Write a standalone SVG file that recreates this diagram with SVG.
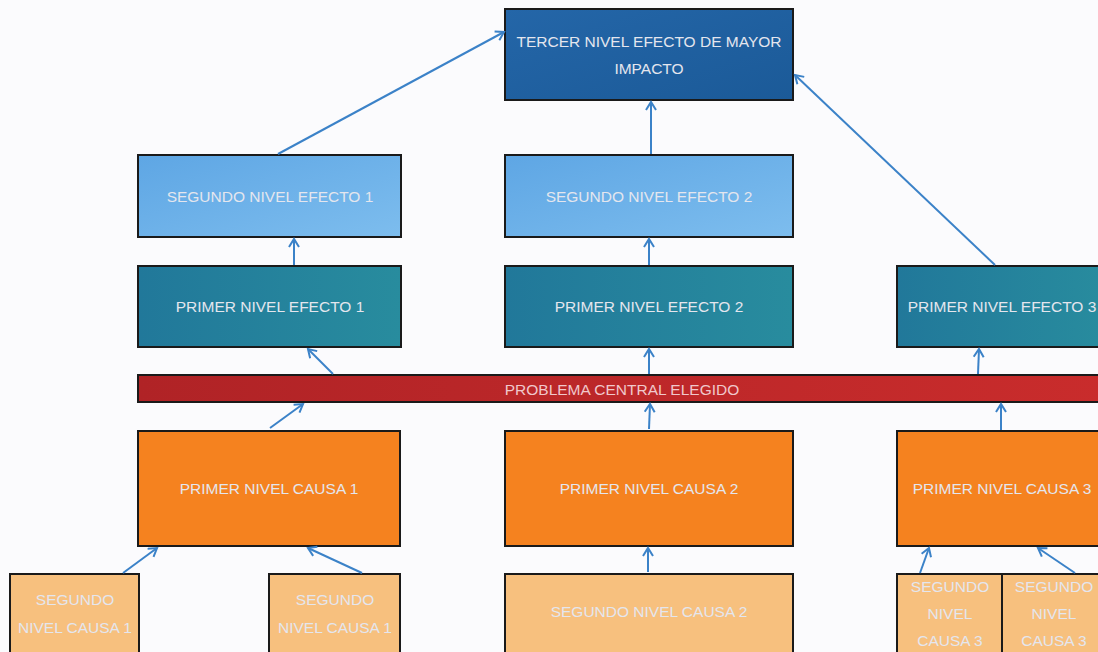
<svg xmlns="http://www.w3.org/2000/svg" width="1098" height="652" viewBox="0 0 1098 652">
<style>
.box{stroke:#1a1a1a;stroke-width:2}
.t{font-family:"Liberation Sans",Arial,sans-serif;font-size:15.5px;fill:#e4e6ee;text-anchor:middle}
.c{stroke:#3b82c8;stroke-width:2;fill:none;marker-end:url(#ah)}
</style>
<defs>
<marker id="ah" markerUnits="userSpaceOnUse" markerWidth="14" markerHeight="14" refX="9" refY="6" orient="auto">
<path d="M1,1 L9,6 L1,11" fill="none" stroke="#3b82c8" stroke-width="2"/>
</marker>
<linearGradient id="gTop" x1="0" y1="0" x2="1" y2="1"><stop offset="0" stop-color="#2466a8"/><stop offset="1" stop-color="#1b5a98"/></linearGradient>
<linearGradient id="gSeg" x1="0" y1="0" x2="1" y2="1"><stop offset="0" stop-color="#5ea6e4"/><stop offset="1" stop-color="#7dbdee"/></linearGradient>
<linearGradient id="gPri" x1="0" y1="0" x2="1" y2="0"><stop offset="0" stop-color="#21789a"/><stop offset="1" stop-color="#288c9e"/></linearGradient>
<linearGradient id="gRed" x1="0" y1="0" x2="1" y2="0"><stop offset="0" stop-color="#b02326"/><stop offset="1" stop-color="#c92c2c"/></linearGradient>
</defs>
<rect width="1098" height="652" fill="#fbfbfd"/>

<g id="tercer-nivel">
<rect class="box" x="505" y="9" width="288" height="91" fill="url(#gTop)"/>
<text class="t" x="649" y="47">TERCER NIVEL EFECTO DE MAYOR</text>
<text class="t" x="649" y="74">IMPACTO</text>
</g>

<g id="segundo-efecto-1">
<rect class="box" x="138" y="155" width="263" height="82" fill="url(#gSeg)"/>
<text class="t" x="270" y="202">SEGUNDO NIVEL EFECTO 1</text>
</g>
<g id="segundo-efecto-2">
<rect class="box" x="505" y="155" width="288" height="82" fill="url(#gSeg)"/>
<text class="t" x="649" y="202">SEGUNDO NIVEL EFECTO 2</text>
</g>

<g id="primer-efecto-1">
<rect class="box" x="138" y="266" width="263" height="81" fill="url(#gPri)"/>
<text class="t" x="270" y="312">PRIMER NIVEL EFECTO 1</text>
</g>
<g id="primer-efecto-2">
<rect class="box" x="505" y="266" width="288" height="81" fill="url(#gPri)"/>
<text class="t" x="649" y="312">PRIMER NIVEL EFECTO 2</text>
</g>
<g id="primer-efecto-3">
<rect class="box" x="897" y="266" width="210" height="81" fill="url(#gPri)"/>
<text class="t" x="1002" y="312">PRIMER NIVEL EFECTO 3</text>
</g>

<g id="problema-central">
<rect class="box" x="138" y="375" width="970" height="27" fill="url(#gRed)"/>
<text class="t" x="622" y="395" style="fill:#f0c8cc">PROBLEMA CENTRAL ELEGIDO</text>
</g>

<g id="primer-causa-1">
<rect class="box" x="138" y="431" width="262" height="115" fill="#f5821f"/>
<text class="t" x="269" y="494">PRIMER NIVEL CAUSA 1</text>
</g>
<g id="primer-causa-2">
<rect class="box" x="505" y="431" width="288" height="115" fill="#f5821f"/>
<text class="t" x="649" y="494">PRIMER NIVEL CAUSA 2</text>
</g>
<g id="primer-causa-3">
<rect class="box" x="897" y="431" width="210" height="115" fill="#f5821f"/>
<text class="t" x="1002" y="494">PRIMER NIVEL CAUSA 3</text>
</g>

<g id="segundo-causa-1a">
<rect class="box" x="10" y="574" width="129" height="85" fill="#f7c07e"/>
<text class="t" x="75" y="605">SEGUNDO</text>
<text class="t" x="75" y="633">NIVEL CAUSA 1</text>
</g>
<g id="segundo-causa-1b">
<rect class="box" x="269" y="574" width="131" height="85" fill="#f7c07e"/>
<text class="t" x="335" y="605">SEGUNDO</text>
<text class="t" x="335" y="633">NIVEL CAUSA 1</text>
</g>
<g id="segundo-causa-2">
<rect class="box" x="505" y="574" width="288" height="85" fill="#f7c07e"/>
<text class="t" x="649" y="617">SEGUNDO NIVEL CAUSA 2</text>
</g>
<g id="segundo-causa-3a">
<rect class="box" x="897" y="574" width="105" height="85" fill="#f7c07e"/>
<text class="t" x="950" y="592">SEGUNDO</text>
<text class="t" x="950" y="619">NIVEL</text>
<text class="t" x="950" y="646">CAUSA 3</text>
</g>
<g id="segundo-causa-3b">
<rect class="box" x="1002" y="574" width="105" height="85" fill="#f7c07e"/>
<text class="t" x="1054" y="592">SEGUNDO</text>
<text class="t" x="1054" y="619">NIVEL</text>
<text class="t" x="1054" y="646">CAUSA 3</text>
</g>

<g id="connectors">
<line class="c" x1="278" y1="154" x2="504" y2="32"/>
<line class="c" x1="651" y1="154" x2="651" y2="102"/>
<line class="c" x1="995" y1="265" x2="795" y2="75"/>
<line class="c" x1="294" y1="265" x2="294" y2="239"/>
<line class="c" x1="649" y1="265" x2="649" y2="239"/>
<line class="c" x1="333" y1="374" x2="308" y2="349"/>
<line class="c" x1="649" y1="374" x2="649" y2="349"/>
<line class="c" x1="978" y1="374" x2="979" y2="349"/>
<line class="c" x1="270" y1="428" x2="303" y2="404"/>
<line class="c" x1="649" y1="429" x2="650" y2="404"/>
<line class="c" x1="1001" y1="430" x2="1001" y2="404"/>
<line class="c" x1="123" y1="573" x2="157" y2="548"/>
<line class="c" x1="362" y1="573" x2="308" y2="548"/>
<line class="c" x1="648" y1="572" x2="648" y2="548"/>
<line class="c" x1="920" y1="573" x2="929" y2="548"/>
<line class="c" x1="1075" y1="573" x2="1038" y2="548"/>
</g>
</svg>
